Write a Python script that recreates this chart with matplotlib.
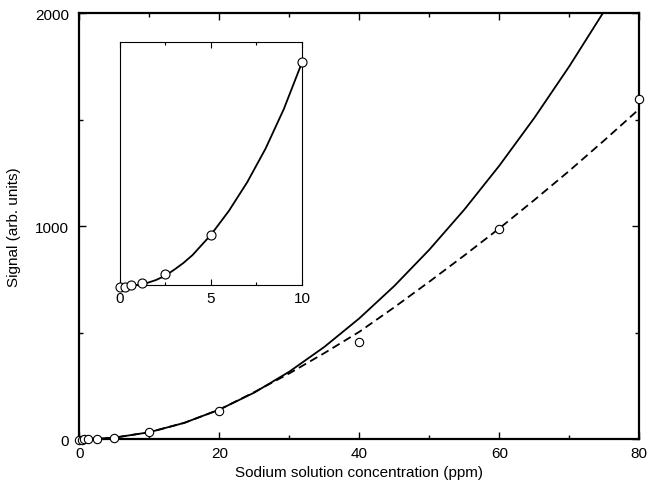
import numpy as np
import matplotlib
matplotlib.use("Agg")
import matplotlib.pyplot as plt
from matplotlib.ticker import MultipleLocator, NullLocator

plt.rcParams['font.family'] = ['Liberation Sans', 'DejaVu Sans']
plt.rcParams['font.size'] = 11

# measured points (ppm, signal)
conc = np.array([0, 0.3125, 0.625, 1.25, 2.5, 5, 10, 20, 40, 60, 80])
signal = np.array([-0.3, -0.3, 0.0, 0.4, 1.9, 8.3, 36.7, 135, 459, 987, 1595])

# solid curve
solid_x = np.array([0, 5, 10, 15, 20, 25, 30, 35, 40, 45, 50, 55, 60, 65, 70, 75, 77])
solid_y = np.array([0, 8.5, 34, 78, 140, 220, 318, 434, 568, 720, 890, 1078, 1284, 1508, 1750, 2010, 2118])

# dashed curve
dash_x = np.array([0, 5, 10, 15, 20, 25, 30, 35, 40, 45, 50, 55, 60, 65, 70, 75, 80])
dash_y = np.array([0, 8.5, 34, 78, 140, 222, 310, 405, 505, 620, 740, 863, 990, 1123, 1260, 1403, 1550])

# inset curve
inset_x = np.array([0.625, 1, 1.5, 2, 2.5, 3, 3.5, 4, 5, 6, 7, 8, 9, 10])
inset_y = np.array([0.0, 0.1, 0.4, 0.9, 1.6, 2.6, 3.7, 5.0, 8.3, 12.3, 17.0, 22.5, 29.0, 36.7])

fig = plt.figure(figsize=(6.47, 4.85), dpi=100)
ax = fig.add_axes([0.1226, 0.0918, 0.8655, 0.8793])

ax.plot(solid_x, solid_y, color='black', lw=1.3)
ax.plot(dash_x, dash_y, color='black', lw=1.3, dashes=(4.6, 2.6))
ax.plot(conc, signal, 'o', ms=6, mfc='white', mec='black', mew=0.8, clip_on=False, zorder=5)

ax.set_xlim(0, 80)
ax.set_ylim(0, 2000)
ax.xaxis.set_major_locator(MultipleLocator(20))
ax.xaxis.set_minor_locator(MultipleLocator(10))
ax.yaxis.set_major_locator(MultipleLocator(1000))
ax.yaxis.set_minor_locator(MultipleLocator(500))
ax.tick_params(which='both', direction='in', top=True, right=True, width=1.0)
ax.tick_params(which='major', length=5, labelsize=11)
ax.tick_params(axis='x', which='major', pad=5)
ax.tick_params(axis='y', which='major', pad=7.5)
ax.tick_params(which='minor', length=3)
for s in ax.spines.values():
    s.set_linewidth(1.6)
ax.set_xlabel("Sodium solution concentration (ppm)", labelpad=3)
ax.set_ylabel("Signal (arb. units)", labelpad=10)

# inset
ins = fig.add_axes([0.1847, 0.4093, 0.2821, 0.5014])
ins.plot(inset_x, inset_y, color='black', lw=1.3)
ins.plot(conc[:7], signal[:7], 'o', ms=6.5, mfc='white', mec='black', mew=0.8, clip_on=False, zorder=5)
ins.set_xlim(0, 10)
ins.set_ylim(0, 40)
ins.xaxis.set_major_locator(MultipleLocator(5))
ins.xaxis.set_minor_locator(MultipleLocator(2.5))
ins.yaxis.set_major_locator(NullLocator())
ins.tick_params(which='both', direction='in', top=True, width=0.8)
ins.tick_params(which='major', length=4, pad=4, labelsize=11)
ins.tick_params(which='minor', length=2.5)
for s in ins.spines.values():
    s.set_linewidth(0.8)

fig.savefig("out.png", dpi=100)
